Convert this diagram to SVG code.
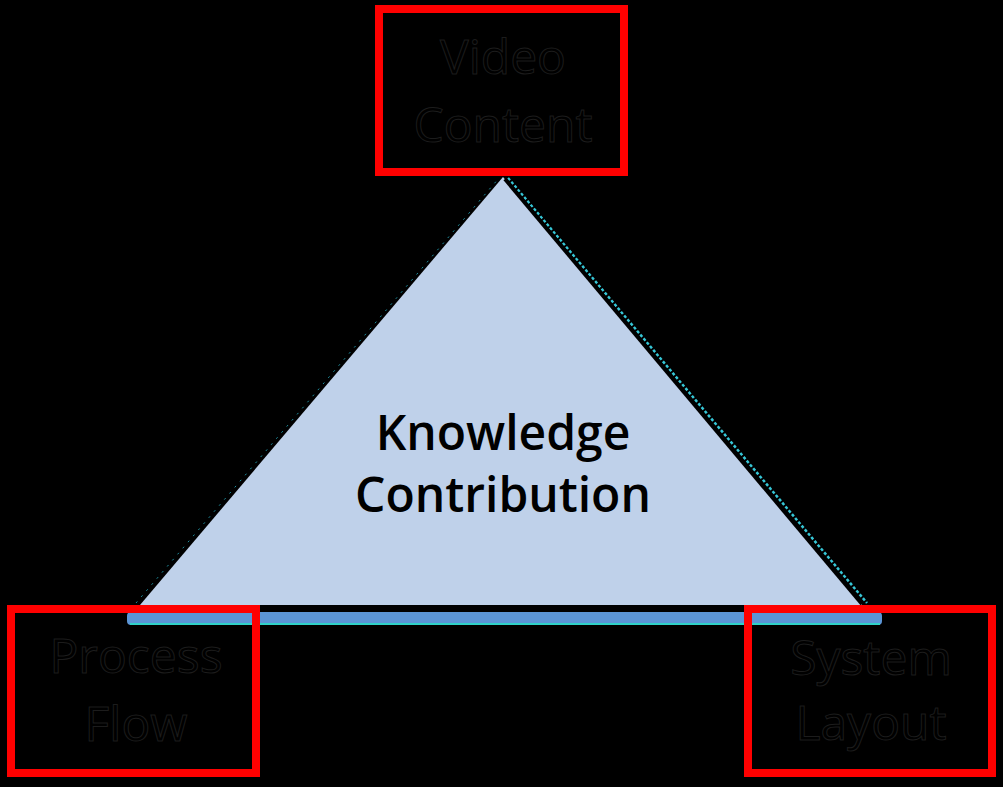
<svg xmlns="http://www.w3.org/2000/svg" width="1003" height="787" viewBox="0 0 1003 787">
<style>
.box{fill:none;stroke:#ff0000;stroke-width:8}
.lbl{font-family:"Open Sans","Liberation Sans",sans-serif;font-size:48px;fill:#000;stroke:#1c1c1c;stroke-width:1;text-anchor:middle}
.center{font-family:"Open Sans","Liberation Sans",sans-serif;font-size:48px;font-weight:600;fill:#000;text-anchor:middle}
</style>
<rect x="0" y="0" width="1003" height="787" fill="#000"/>
<g id="connectors">
<line x1="508" y1="178" x2="867" y2="603" stroke="#36c6d6" stroke-width="2.5" stroke-dasharray="3 2"/>
<line x1="136" y1="603" x2="499" y2="178" stroke="#1f8f9f" stroke-width="1" stroke-dasharray="2 6"/>
</g>
<g id="triangle">
<polygon points="503,177 140,605 862,605" fill="#bfd1ea"/>
<line x1="505" y1="179" x2="862" y2="604" stroke="#000" stroke-width="4"/>
<rect x="127" y="612" width="755" height="13" rx="4" fill="#5b95d6"/>
<line x1="130" y1="624" x2="880" y2="624" stroke="#2fd3c8" stroke-width="2"/>
<text class="center" x="503" y="450">Knowledge</text>
<text class="center" x="503" y="512">Contribution</text>
</g>
<g id="video-content">
<rect class="box" x="379" y="9" width="245" height="163"/>
<text class="lbl" x="503" y="74">Video</text>
<text class="lbl" x="503" y="142">Content</text>
</g>
<g id="process-flow">
<rect class="box" x="11" y="609" width="245" height="164"/>
<text class="lbl" x="136" y="673">Process</text>
<text class="lbl" x="136" y="741">Flow</text>
</g>
<g id="system-layout">
<rect class="box" x="748" y="609" width="244" height="164"/>
<text class="lbl" x="871" y="675">System</text>
<text class="lbl" x="871" y="740">Layout</text>
</g>
</svg>
